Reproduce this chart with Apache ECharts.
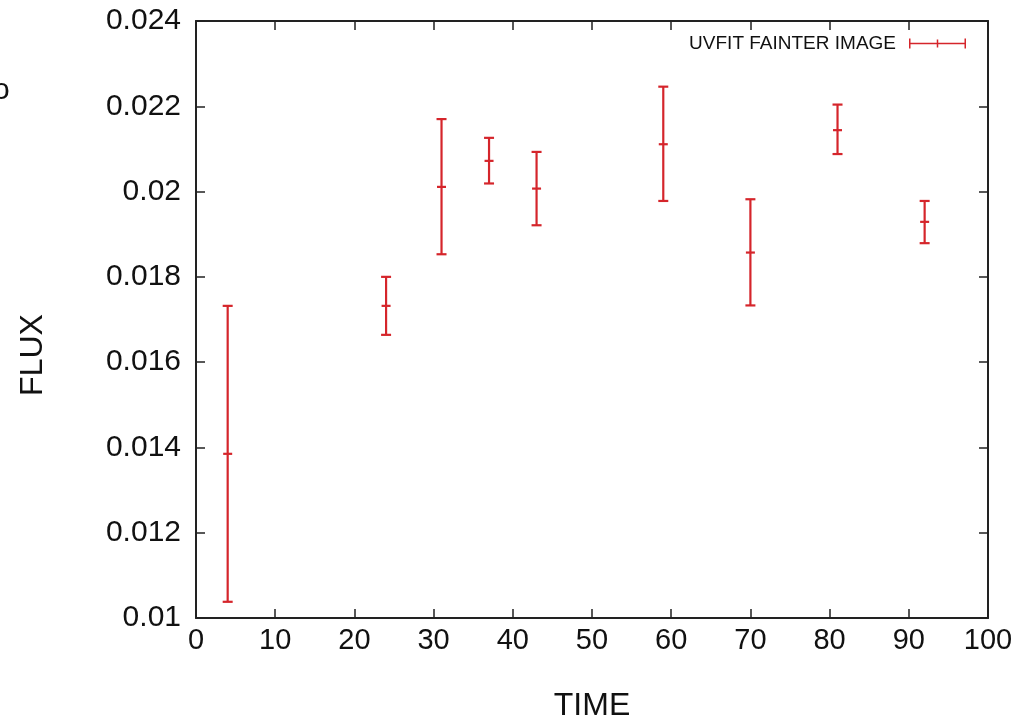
<!DOCTYPE html>
<html>
<head>
<meta charset="utf-8">
<script src="https://cdn.jsdelivr.net/npm/echarts@6/dist/echarts.min.js"></script>
<style>html,body{margin:0;padding:0;background:#fff}#c{width:1033px;height:723px}</style>
</head>
<body>
<div id="c"></div>
<script>
var seriesName = 'UVFIT FAINTER IMAGE';
var time     = [4,       24,      31,      37,      43,      59,      70,      81,      92];
var flux     = [0.01385, 0.01732, 0.02011, 0.02072, 0.02007, 0.02111, 0.01857, 0.02144, 0.01929];
var fluxLow  = [0.01038, 0.01664, 0.01853, 0.02019, 0.01921, 0.01978, 0.01733, 0.02088, 0.01879];
var fluxHigh = [0.01732, 0.01800, 0.02170, 0.02126, 0.02093, 0.02246, 0.01982, 0.02204, 0.01978];
var xTickLabels = ['0','10','20','30','40','50','60','70','80','90','100'];
var yTickLabels = ['0.01','0.012','0.014','0.016','0.018','0.02','0.022','0.024'];

var data = time.map(function(t,i){ return [t, flux[i], fluxLow[i], fluxHigh[i]]; });
var RED = '#d5252b';
var FONT = '"Liberation Sans", Arial, sans-serif';

var chart = echarts.init(document.getElementById('c'), null, {renderer:'canvas'});
var axisLineStyle = {color:'#222', width:2};
var aLine = {show:true, onZero:false, lineStyle:axisLineStyle};
var aTick = {show:true, inside:true, length:9, lineStyle:{color:'#222', width:1.5}};
var option = {
  animation:false,
  backgroundColor:'#fff',
  grid:{left:196, right:45, top:21, bottom:105, containLabel:false},
  legend:{
    show:true,
    right:62, top:29,
    align:'right',
    itemWidth:57, itemHeight:10,
    textStyle:{fontFamily:FONT, fontSize:19, color:'#111', padding:[0,8,0,0]},
    data:[{name:seriesName, icon:'path://M0,0H1.5V4.25H27.75V1H29.25V4.25H55.5V0H57V10H55.5V5.75H29.25V9H27.75V5.75H1.5V10H0Z', itemStyle:{color:RED}}]
  },
  xAxis:[
    {type:'value', min:0, max:100, interval:10, position:'bottom',
     axisLine:aLine, axisTick:aTick, splitLine:{show:false},
     axisLabel:{margin:8, fontFamily:FONT, fontSize:29, color:'#111',
       formatter:function(v){ return xTickLabels[Math.round(v/10)]; }}},
    {type:'value', min:0, max:100, interval:10, position:'top',
     axisLine:aLine, axisTick:aTick, splitLine:{show:false}, axisLabel:{show:false}}
  ],
  yAxis:[
    {type:'value', min:0.01, max:0.024, interval:0.002, position:'left',
     axisLine:aLine, axisTick:aTick, splitLine:{show:false},
     axisLabel:{margin:15, fontFamily:FONT, fontSize:30, color:'#111', padding:[5,0,0,0],
       formatter:function(v){ return yTickLabels[Math.round((v-0.01)/0.002)]; }}},
    {type:'value', min:0.01, max:0.024, interval:0.002, position:'right',
     axisLine:aLine, axisTick:aTick, splitLine:{show:false}, axisLabel:{show:false}}
  ],
  graphic:[
    {type:'text', left:-7, top:76, style:{text:'o', font:'30px '+FONT, fill:'#111'}},
    {type:'text', x:33, y:355, rotation:Math.PI/2, style:{text:'FLUX', font:'32px '+FONT, fill:'#111', align:'center', verticalAlign:'middle'}},
    {type:'text', x:592, y:706, style:{text:'TIME', font:'32px '+FONT, fill:'#111', align:'center', verticalAlign:'middle'}}
  ],
  series:[{
    name:seriesName,
    type:'custom',
    xAxisIndex:0, yAxisIndex:0,
    itemStyle:{color:RED},
    data:data,
    renderItem:function(params, api){
      var x = api.value(0);
      var c = api.coord([x, api.value(1)]);
      var lo = api.coord([x, api.value(2)]);
      var hi = api.coord([x, api.value(3)]);
      var cw = 5, mw = 4.5;
      var st = {stroke:RED, lineWidth:2.2, fill:null};
      return {type:'group', children:[
        {type:'line', shape:{x1:lo[0], y1:lo[1], x2:hi[0], y2:hi[1]}, style:st},
        {type:'line', shape:{x1:lo[0]-cw, y1:lo[1], x2:lo[0]+cw, y2:lo[1]}, style:st},
        {type:'line', shape:{x1:hi[0]-cw, y1:hi[1], x2:hi[0]+cw, y2:hi[1]}, style:st},
        {type:'line', shape:{x1:c[0]-mw, y1:c[1], x2:c[0]+mw, y2:c[1]}, style:st}
      ]};
    }
  }]
};
chart.setOption(option);
</script>
</body>
</html>
